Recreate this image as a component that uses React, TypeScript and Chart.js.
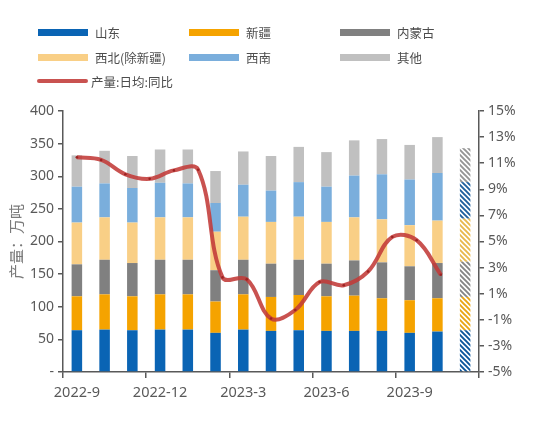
import React, { useEffect, useRef } from 'react';
import { Chart, registerables } from 'chart.js';

Chart.register(...registerables);

// ---------- data ----------
const months = [
  '2022-9', '2022-10', '2022-11', '2022-12', '2023-1', '2023-2', '2023-3', '2023-4',
  '2023-5', '2023-6', '2023-7', '2023-8', '2023-9', '2023-10', '2023-11',
];
const shandong = [64, 65, 64, 65, 65, 60, 65, 63, 64, 63, 63, 63, 60, 62, 64];
const xinjiang = [52, 54, 52, 54, 54, 48, 54, 52, 54, 53, 54, 50, 50, 51, 51];
const neimenggu = [49, 53, 51, 53, 53, 48, 53, 51, 54, 50, 54, 55, 52, 54, 54];
const xibei = [64, 65, 62, 65, 65, 59, 66, 64, 66, 64, 66, 66, 63, 65, 66];
const xinan = [55, 52, 53, 53, 52, 44, 49, 48, 53, 54, 64, 69, 70, 73, 56];
const qita = [48, 50, 49, 51, 52, 49, 51, 53, 54, 53, 54, 54, 53, 55, 52];
// year-on-year of daily average output (%); first value is the month before the axis (2022-8)
const yoyMonths = ['2022-8', ...months];
const yoy = [11.45, 11.25, 10.15, 9.8, 10.45, 10.5, 2.25, 2.1, -0.9, -0.25, 1.9, 1.65, 2.7, 5.35, 5.1, 2.45];
const forecastIndex = 14;

const seriesNames = ['山东', '新疆', '内蒙古', '西北(除新疆)', '西南', '其他'];
const seriesData = [shandong, xinjiang, neimenggu, xibei, xinan, qita];
const seriesColors = ['#0a64b4', '#f5a300', '#808080', '#f9cf86', '#7aaedc', '#c0c0c0'];
const hatchColors = ['#0b559c', '#e9a514', '#858585', '#e8b84c', '#1f5f9e', '#959595'];
const lineName = '产量:日均:同比';
const lineColor = 'rgba(194, 58, 56, 0.88)';

const leftMin = 0, leftMax = 400, leftStep = 50;
const rightMin = -5, rightMax = 15, rightStep = 2;
const xLabelEvery = 3;

const axisColor = '#595959';
const tickFont = '"Noto Sans", sans-serif';
const cjkFont = '"Noto Sans CJK SC", sans-serif';

function makeHatch(ctx: CanvasRenderingContext2D, color: string): CanvasPattern | string {
  const s = 5;
  const tile = document.createElement('canvas');
  tile.width = s;
  tile.height = s;
  const g = tile.getContext('2d');
  if (!g) return color;
  g.fillStyle = '#ffffff';
  g.fillRect(0, 0, s, s);
  g.strokeStyle = color;
  g.lineWidth = 1.9;
  g.beginPath();
  for (const k of [-s, 0, s]) {
    g.moveTo(k - 1, -1);
    g.lineTo(k + s + 1, s + 1);
  }
  g.stroke();
  return ctx.createPattern(tile, 'repeat') || color;
}

export default function App() {
  const canvasRef = useRef<HTMLCanvasElement | null>(null);

  useEffect(() => {
    const canvas = canvasRef.current;
    if (!canvas) return;
    const ctx = canvas.getContext('2d');
    if (!ctx) return;
    const patterns = hatchColors.map((c) => makeHatch(ctx, c));

    const barDatasets = seriesData.map((data, si) => ({
      type: 'bar' as const,
      label: seriesNames[si],
      data,
      backgroundColor: (c: any) => (c.dataIndex === forecastIndex ? patterns[si] : seriesColors[si]),
      borderWidth: 0,
      grouped: false,
      barPercentage: 0.38,
      categoryPercentage: 1,
      xAxisID: 'x',
      yAxisID: 'y',
      order: 1,
    }));

    const chart = new Chart(ctx, {
      type: 'bar',
      data: {
        labels: months,
        datasets: [
          {
            type: 'line' as const,
            label: lineName,
            data: yoy.map((v, i) => ({ x: i - 1, y: v })) as any,
            borderColor: lineColor,
            backgroundColor: lineColor,
            borderWidth: 4,
            tension: 0.38,
            pointRadius: 1.3,
            pointBackgroundColor: '#9c2222',
            pointBorderWidth: 0,
            xAxisID: 'xl',
            yAxisID: 'y1',
            order: 0,
          } as any,
          ...barDatasets,
        ],
      },
      options: {
        responsive: false,
        animation: false,
        devicePixelRatio: 1,
        layout: { padding: { top: 111, left: 0, right: 0, bottom: 0 } },
        plugins: { legend: { display: false }, tooltip: { enabled: false } },
        scales: {
          x: {
            type: 'category',
            stacked: true,
            offset: true,
            grid: {
              offset: true,
              drawOnChartArea: false,
              drawTicks: true,
              tickLength: 6,
              lineWidth: 1.5,
              color: (c: any) =>
                c.index === undefined || c.index % xLabelEvery === 0 ? axisColor : 'rgba(0,0,0,0)',
            },
            border: { display: true, color: axisColor, width: 1.5 },
            ticks: {
              autoSkip: false,
              maxRotation: 0,
              minRotation: 0,
              padding: 6,
              color: axisColor,
              font: { family: tickFont, size: 14.5 },
              callback: (_v: any, i: number) => (i % xLabelEvery === 0 ? months[i] : ''),
            },
            afterFit: (s: any) => {
              s.height = 65;
            },
          },
          xl: {
            type: 'linear',
            display: false,
            min: -0.5,
            max: months.length - 0.5,
          },
          y: {
            type: 'linear',
            position: 'left',
            stacked: true,
            min: leftMin,
            max: leftMax,
            grid: { drawOnChartArea: false, drawTicks: true, tickLength: 5, color: axisColor, lineWidth: 1.5 },
            border: { display: true, color: axisColor, width: 1.5 },
            ticks: {
              stepSize: leftStep,
              padding: 4,
              color: axisColor,
              font: { family: tickFont, size: 14 },
              callback: (v: any) => (Number(v) === 0 ? '-' : String(v)),
            },
            title: {
              display: true,
              text: '产量：万吨',
              color: '#7a7a7a',
              font: { family: cjkFont, size: 15 },
              padding: { top: 7, bottom: 0 },
            },
            afterFit: (s: any) => {
              s.width = 63;
            },
          },
          y1: {
            type: 'linear',
            position: 'right',
            min: rightMin,
            max: rightMax,
            grid: { drawOnChartArea: false, drawTicks: true, tickLength: 5, color: axisColor, lineWidth: 1.5 },
            border: { display: true, color: axisColor, width: 1.5 },
            ticks: {
              stepSize: rightStep,
              padding: 4,
              color: axisColor,
              font: { family: tickFont, size: 14 },
              callback: (v: any) => `${v}%`,
            },
            afterFit: (s: any) => {
              s.width = 67;
            },
          },
        },
      } as any,
    });

    return () => {
      chart.destroy();
    };
  }, []);

  const colLefts = [38, 189, 340];
  const rowCenters = [32, 57, 81];
  const legendText: React.CSSProperties = {
    fontFamily: cjkFont,
    fontSize: 12.5,
    color: '#4d4d4d',
    whiteSpace: 'nowrap',
  };

  return (
    <div style={{ position: 'absolute', left: 0, top: 0, width: 546, height: 437, background: '#fff' }}>
      <canvas ref={canvasRef} width={546} height={437} style={{ position: 'absolute', left: 0, top: 0, width: 546, height: 437 }} />
      {seriesNames.map((name, i) => (
        <div
          key={name}
          style={{
            position: 'absolute',
            left: colLefts[i % 3],
            top: rowCenters[Math.floor(i / 3)] - 9,
            height: 18,
            display: 'flex',
            alignItems: 'center',
          }}
        >
          <span style={{ display: 'inline-block', width: 50, height: 7, background: seriesColors[i] }} />
          <span style={{ ...legendText, marginLeft: 7 }}>{name}</span>
        </div>
      ))}
      <div
        style={{
          position: 'absolute',
          left: 37,
          top: rowCenters[2] - 9,
          height: 18,
          display: 'flex',
          alignItems: 'center',
        }}
      >
        <span style={{ display: 'inline-block', width: 51, height: 4, background: lineColor, borderRadius: 2 }} />
        <span style={{ ...legendText, marginLeft: 3 }}>{lineName}</span>
      </div>
    </div>
  );
}
